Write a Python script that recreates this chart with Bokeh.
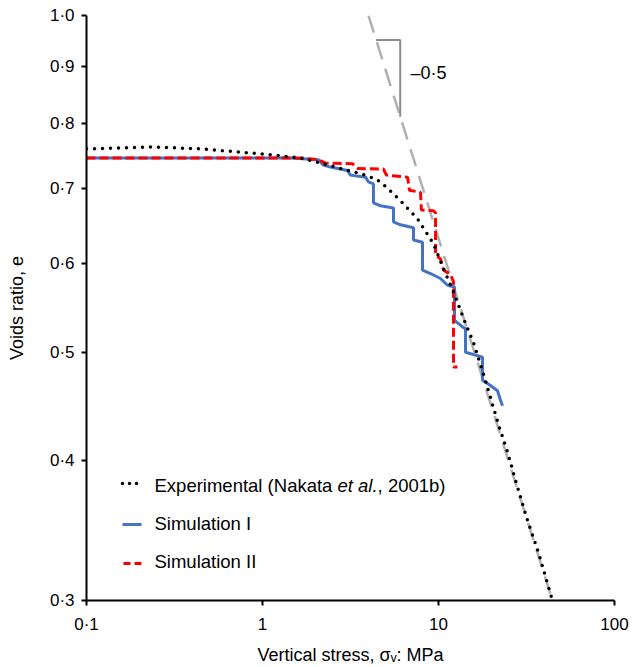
import math
from bokeh.plotting import figure
from bokeh.models import FixedTicker, Label, Arrow, Range1d
from bokeh.embed import file_html
from bokeh.resources import INLINE

# ---------------- data ----------------
x_ticks = [0.1, 1.0, 10.0, 100.0]
x_tick_labels = ["0·1", "1", "10", "100"]
y_ticks = [0.3, 0.4, 0.5, 0.6, 0.7, 0.8, 0.9, 1.0]
y_tick_labels = ["0·3", "0·4", "0·5", "0·6", "0·7", "0·8", "0·9", "1·0"]
x_title = "Vertical stress, σᵥ: MPa"
y_title = "Voids ratio, e"

# Experimental (Nakata et al., 2001b)
exp_stress = [0.100, 0.137, 0.231, 0.444, 1.00, 1.64, 2.53, 3.61, 4.44, 5.13, 6.08,
              7.60, 9.37, 10.68, 12.17, 13.87, 15.81, 18.02, 21.9, 24.7, 27.4, 32.0,
              37.0, 44.4]
exp_e = [0.760, 0.761, 0.763, 0.760, 0.752, 0.746, 0.733, 0.722, 0.714, 0.701, 0.683,
         0.658, 0.625, 0.594, 0.566, 0.536, 0.510, 0.478, 0.431, 0.407, 0.384, 0.354,
         0.331, 0.300]

# Simulation I
sim1_stress = [0.100, 1.44, 2.08, 2.22, 2.43, 3.04, 3.16, 3.85, 4.00, 4.27, 4.27, 4.68,
               5.55, 5.55, 6.08, 7.21, 7.21, 8.11, 8.11, 9.01, 10.26, 11.25, 12.33,
               12.33, 13.87, 14.24, 14.24, 17.78, 17.78, 19.75, 21.64, 22.51, 23.10]
sim1_e = [0.746, 0.746, 0.743, 0.735, 0.732, 0.727, 0.720, 0.717, 0.710, 0.707, 0.680,
          0.676, 0.673, 0.654, 0.650, 0.646, 0.630, 0.627, 0.592, 0.588, 0.582, 0.574,
          0.572, 0.534, 0.526, 0.525, 0.500, 0.495, 0.472, 0.467, 0.462, 0.453, 0.448]

# Simulation II
sim2_stress = [0.100, 1.64, 2.08, 2.28, 3.25, 3.47, 4.87, 5.06, 6.67, 6.84, 7.90, 8.00,
               9.37, 9.62, 9.62, 10.26, 10.68, 11.70, 12.17, 12.17, 12.82]
sim2_e = [0.746, 0.746, 0.743, 0.738, 0.737, 0.730, 0.729, 0.720, 0.717, 0.698, 0.695,
          0.670, 0.669, 0.666, 0.611, 0.606, 0.592, 0.587, 0.578, 0.485, 0.485]

# slope -0.5 guide line and its triangle
slope_stress = [4.0, 44.4]
slope_e = [1.0, 0.30]
tri_stress = [4.42, 6.06, 6.06]
tri_e = [0.951, 0.951, 0.812]
slope_text = "–0·5"

legend_labels = ["Simulation I", "Simulation II"]

# ---------------- styling ----------------
FONT = "Liberation Sans"
BLUE = "#4472C4"
RED = "#FF0000"

# Arial / Liberation Sans advance widths (1/1000 em)
_W = {" ": 278, "(": 333, ")": 333, ",": 278, ".": 278, ":": 278, "·": 278,
      "E": 667, "M": 833, "N": 722, "P": 667, "V": 667, "S": 667, "I": 278,
      "a": 556, "b": 556, "c": 500, "d": 556, "e": 556, "i": 222, "k": 500,
      "l": 222, "m": 833, "n": 556, "o": 556, "p": 556, "r": 333, "s": 500,
      "t": 278, "u": 556, "v": 500, "x": 500}


def tw(s, size):
    return sum(_W.get(c, 556) for c in s) * size / 1000.0


p = figure(width=632, height=667, x_axis_type="log", y_axis_type="log",
           x_range=Range1d(0.1, 100), y_range=Range1d(0.3, 1.0),
           output_backend="svg", toolbar_location=None,
           min_border_left=86, min_border_right=18, min_border_top=15,
           min_border_bottom=67)
p.outline_line_color = None
p.grid.visible = False
p.background_fill_color = "white"
p.border_fill_color = "white"

for ax, ticks, labels in ((p.xaxis, x_ticks, x_tick_labels), (p.yaxis, y_ticks, y_tick_labels)):
    ax.ticker = FixedTicker(ticks=ticks, minor_ticks=[])
    ax.major_label_overrides = dict(zip(ticks, labels))
    ax.axis_line_width = 2
    ax.axis_line_color = "black"
    ax.major_tick_line_width = 2
    ax.major_tick_line_color = "black"
    ax.major_tick_out = 5
    ax.major_tick_in = 0
    ax.minor_tick_out = 0
    ax.minor_tick_in = 0
    ax.major_label_text_font = FONT
    ax.major_label_text_font_size = "17px"
    ax.major_label_text_color = "black"
    ax.axis_label_text_font = FONT
    ax.axis_label_text_font_size = "18px"
    ax.axis_label_text_font_style = "normal"
    ax.axis_label_text_color = "black"
p.xaxis.major_label_standoff = 9
p.yaxis.major_label_standoff = 7
p.xaxis.axis_label = x_title
p.yaxis.axis_label = y_title
p.xaxis.axis_label_standoff = 8
p.yaxis.axis_label_standoff = 20

# guide line and triangle
p.line(slope_stress, slope_e, line_color="#B0B0B0", line_width=2.5, line_dash="18 10")
p.line(tri_stress, tri_e, line_color="#8C8C8C", line_width=2)

# series
p.line(sim1_stress, sim1_e, line_color=BLUE, line_width=3)
p.line(sim2_stress, sim2_e, line_color=RED, line_width=3, line_dash="9 4")
p.line(exp_stress, exp_e, line_color="black", line_width=3.5, line_dash="0 8",
       line_cap="round")

# slope text
p.add_layout(Label(x=324, y=528, x_units="screen", y_units="screen", text=slope_text,
                   text_font=FONT, text_font_size="18px", text_baseline="middle",
                   text_color="black"))

# ---------------- legend (drawn by hand for the italic 'et al.') ----------------
LS = 18.5
sample_x0, sample_x1, text_x = 36, 55, 68
rows_line_y = [117, 76, 37]
rows_text_y = [115.5, 77.5, 39.5]
p.add_layout(Arrow(end=None, x_start=sample_x0, y_start=rows_line_y[0], x_end=sample_x1,
                   y_end=rows_line_y[0], start_units="screen", end_units="screen",
                   line_color="black", line_width=3.5, line_dash="0 7", line_cap="round"))
p.add_layout(Arrow(end=None, x_start=sample_x0, y_start=rows_line_y[1], x_end=sample_x1,
                   y_end=rows_line_y[1], start_units="screen", end_units="screen",
                   line_color=BLUE, line_width=3))
p.add_layout(Arrow(end=None, x_start=sample_x0 + 1, y_start=rows_line_y[2], x_end=sample_x1,
                   y_end=rows_line_y[2], start_units="screen", end_units="screen",
                   line_color=RED, line_width=3, line_dash="7 4"))

parts = [("Experimental (Nakata ", "normal"), ("et al.", "italic"), (", 2001b)", "normal")]
cx = text_x
for txt, style in parts:
    p.add_layout(Label(x=cx, y=rows_text_y[0], x_units="screen", y_units="screen", text=txt,
                       text_font=FONT, text_font_size=f"{LS}px", text_font_style=style,
                       text_baseline="middle", text_color="black"))
    cx += tw(txt, LS)
for lbl, yy in zip(legend_labels, rows_text_y[1:]):
    p.add_layout(Label(x=text_x, y=yy, x_units="screen", y_units="screen", text=lbl,
                       text_font=FONT, text_font_size=f"{LS}px", text_baseline="middle",
                       text_color="black"))

open("out.html", "w").write(file_html(p, INLINE))
